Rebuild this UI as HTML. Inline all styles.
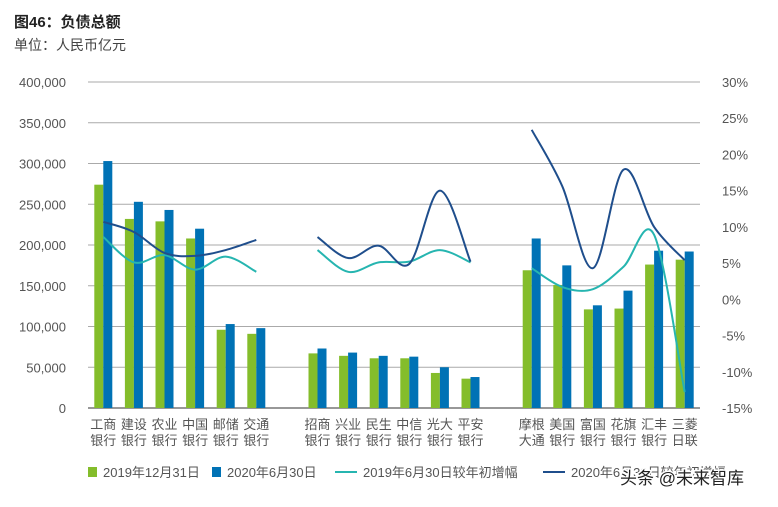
<!DOCTYPE html>
<html><head><meta charset="utf-8"><style>
body{margin:0;background:#fff;width:778px;height:502px;overflow:hidden;font-family:"Liberation Sans","Noto Sans CJK SC",sans-serif;}
svg text{font-family:"Liberation Sans","Noto Sans CJK SC",sans-serif;}
</style></head><body>
<svg id="c" width="778" height="502"></svg>
<script>
const banks=[["工商","银行"],["建设","银行"],["农业","银行"],["中国","银行"],["邮储","银行"],["交通","银行"],null,["招商","银行"],["兴业","银行"],["民生","银行"],["中信","银行"],["光大","银行"],["平安","银行"],null,["摩根","大通"],["美国","银行"],["富国","银行"],["花旗","银行"],["汇丰","银行"],["三菱","日联"]];
const liab2019=[274000,232000,229000,208000,96000,91000,null,67000,64000,61000,61000,43000,36000,null,169000,151000,121000,122000,176000,182000];
const liab2020=[303000,253000,243000,220000,103000,98000,null,73000,68000,64000,63000,50000,38000,null,208000,175000,126000,144000,193000,192000];
const growth2019=[8.6,5.1,6.1,4.1,5.9,3.8,null,6.8,3.8,5.1,5.2,6.8,5.1,null,4.3,1.7,1.4,4.5,8.9,-12.8];
const growth2020=[10.7,9.3,6.4,6.0,6.8,8.2,null,8.6,5.7,7.4,4.9,15.0,5.2,null,23.4,15.6,4.3,17.9,10.0,5.4];
const leftTicks=[0,50000,100000,150000,200000,250000,300000,350000,400000];
const rightTicks=[-15,-10,-5,0,5,10,15,20,25,30];

const NS="http://www.w3.org/2000/svg",svg=document.getElementById('c');
function el(t,a,txt){const e=document.createElementNS(NS,t);for(const k in a)e.setAttribute(k,a[k]);if(txt!=null)e.textContent=txt;svg.appendChild(e);return e;}
const X0=88,X1=700,Y0=408,Y1=82,slot=(X1-X0)/banks.length;
const yL=v=>Y0-(v/400000)*(Y0-Y1);
const yR=v=>Y0-((v+15)/45)*(Y0-Y1);
const xc=i=>X0+(i+0.5)*slot;

let t=el('text',{x:14,y:27,'font-size':15,'font-weight':'bold',fill:'#222'},'图46：负债总额');

t=el('text',{x:14,y:50,'font-size':14,fill:'#444'},'单位：人民币亿元');


leftTicks.forEach(v=>{
 const y=yL(v);
 const g=el('line',{x1:X0,x2:X1,y1:y,y2:y,stroke:v===0?'#777':'#aaa','stroke-width':v===0?1.5:1});
 
 const l=el('text',{x:66,y:y+5,'font-size':13,fill:'#555','text-anchor':'end'},v.toLocaleString('en-US'));
 
});
rightTicks.forEach(v=>{
 const l=el('text',{x:722,y:yR(v)+5,'font-size':13,fill:'#555'},v+'%');
 
});
banks.forEach((b,i)=>{
 if(!b)return;
 const x=xc(i);
 let r=el('rect',{x:x-9,y:yL(liab2019[i]),width:9,height:Y0-yL(liab2019[i]),fill:'#84bd2b'});
 
 r=el('rect',{x:x,y:yL(liab2020[i]),width:9,height:Y0-yL(liab2020[i]),fill:'#0072b5'});
 
 let a=el('text',{x:x,y:429,'font-size':13,fill:'#555','text-anchor':'middle'},b[0]);
 
 a=el('text',{x:x,y:445,'font-size':13,fill:'#555','text-anchor':'middle'},b[1]);
 
});
function curve(vals,color,name){
 let seg=[];const segs=[];
 vals.forEach((v,i)=>{if(v==null){if(seg.length)segs.push(seg);seg=[];}else seg.push([xc(i),yR(v)]);});
 if(seg.length)segs.push(seg);
 segs.forEach(p=>{
  let d='M'+p[0][0]+','+p[0][1];
  for(let i=0;i<p.length-1;i++){
   const p0=p[i-1]||p[i],p1=p[i],p2=p[i+1],p3=p[i+2]||p2;
   const c1=[p1[0]+(p2[0]-p0[0])/6,p1[1]+(p2[1]-p0[1])/6],c2=[p2[0]-(p3[0]-p1[0])/6,p2[1]-(p3[1]-p1[1])/6];
   d+=' C'+c1+' '+c2+' '+p2;
  }
  const e=el('path',{d:d,fill:'none',stroke:color,'stroke-width':2});
  
 });
}
curve(growth2019,'#26b5b0','line-growth-2019');
curve(growth2020,'#1f4e8c','line-growth-2020');

const lg=[['rect','#84bd2b',88,'2019年12月31日'],['rect','#0072b5',212,'2020年6月30日'],['line','#26b5b0',335,'2019年6月30日较年初增幅'],['line','#1f4e8c',543,'2020年6月30日较年初增幅']];
lg.forEach(([k,c,x,s])=>{
 let m;
 if(k==='rect'){m=el('rect',{x:x,y:467,width:9,height:10,fill:c});x+=15;}
 else{m=el('line',{x1:x,x2:x+22,y1:472,y2:472,stroke:c,'stroke-width':2});x+=28;}
 
 const l=el('text',{x:x,y:477,'font-size':13,fill:'#555'},s);
 
});
const w=el('text',{x:620,y:484,'font-size':17,fill:'#222',stroke:'#fff','stroke-width':3,'paint-order':'stroke'},'头条 @未来智库');

</script>
</body></html>
